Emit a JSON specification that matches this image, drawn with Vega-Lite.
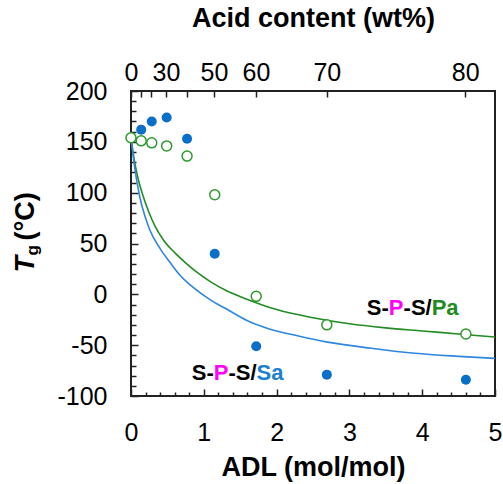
{
  "$schema": "https://vega.github.io/schema/vega-lite/v6.json",
  "width": 364,
  "height": 305,
  "autosize": "none",
  "padding": {"left": 131, "top": 91, "right": 8, "bottom": 88},
  "background": "white",
  "config": {
    "view": {"stroke": "#222222", "strokeWidth": 2},
    "font": "Liberation Sans",
    "axis": {
      "domain": false,
      "grid": false,
      "labelFont": "Liberation Sans",
      "titleFont": "Liberation Sans",
      "labelColor": "black",
      "titleColor": "black",
      "tickColor": "#222222",
      "tickWidth": 1.5,
      "labelFontSize": 25,
      "titleFontSize": 27,
      "titleFontWeight": "bold",
      "labelFlush": false,
      "labelOverlap": false
    }
  },
  "datasets": {
    "pa_fit": [
      {"adl": 0, "tg": 154}, {"adl": 0.05, "tg": 130}, {"adl": 0.1, "tg": 113}, {"adl": 0.165, "tg": 97},
      {"adl": 0.25, "tg": 80}, {"adl": 0.33, "tg": 67}, {"adl": 0.45, "tg": 53}, {"adl": 0.6, "tg": 41},
      {"adl": 0.75, "tg": 31}, {"adl": 0.9, "tg": 22}, {"adl": 1.1, "tg": 12}, {"adl": 1.3, "tg": 4},
      {"adl": 1.6, "tg": -5}, {"adl": 2.0, "tg": -15}, {"adl": 2.5, "tg": -23}, {"adl": 3.0, "tg": -29},
      {"adl": 3.5, "tg": -33}, {"adl": 4.0, "tg": -36}, {"adl": 4.5, "tg": -39}, {"adl": 5.0, "tg": -42}
    ],
    "sa_fit": [
      {"adl": 0, "tg": 154}, {"adl": 0.05, "tg": 125}, {"adl": 0.12, "tg": 96}, {"adl": 0.2, "tg": 75},
      {"adl": 0.26, "tg": 63}, {"adl": 0.4, "tg": 45}, {"adl": 0.53, "tg": 32}, {"adl": 0.67, "tg": 19},
      {"adl": 0.85, "tg": 7}, {"adl": 1.1, "tg": -6}, {"adl": 1.3, "tg": -14}, {"adl": 1.6, "tg": -26},
      {"adl": 1.9, "tg": -34}, {"adl": 2.3, "tg": -41}, {"adl": 2.7, "tg": -47}, {"adl": 3.3, "tg": -53},
      {"adl": 3.9, "tg": -58}, {"adl": 4.5, "tg": -61}, {"adl": 5.0, "tg": -63}
    ],
    "pa_pts": [
      {"adl": 0, "tg": 154}, {"adl": 0.14, "tg": 151}, {"adl": 0.285, "tg": 149}, {"adl": 0.49, "tg": 146},
      {"adl": 0.77, "tg": 136}, {"adl": 1.15, "tg": 98}, {"adl": 1.72, "tg": -2}, {"adl": 2.69, "tg": -30},
      {"adl": 4.6, "tg": -39}
    ],
    "sa_pts": [
      {"adl": 0.14, "tg": 162}, {"adl": 0.285, "tg": 170}, {"adl": 0.49, "tg": 174}, {"adl": 0.77, "tg": 153},
      {"adl": 1.15, "tg": 40}, {"adl": 1.72, "tg": -51}, {"adl": 2.69, "tg": -79}, {"adl": 4.6, "tg": -84}
    ],
    "labels": [
      {"series": "Pa", "adl": 3.24, "tg": -20.3},
      {"series": "Sa", "adl": 0.834, "tg": -84.3}
    ]
  },
  "layer": [
    {
      "data": {"name": "pa_fit"},
      "mark": {"type": "line", "color": "#238C23", "strokeWidth": 1.6, "interpolate": "monotone"},
      "encoding": {
        "x": {"field": "adl", "type": "quantitative", "scale": {"domain": [0, 5], "nice": false},
          "axis": {"orient": "bottom", "values": [0, 1, 2, 3, 4, 5], "format": "d", "tickSize": -7, "labelPadding": 31, "title": "ADL (mol/mol)", "titlePadding": 9}},
        "y": {"field": "tg", "type": "quantitative", "scale": {"domain": [-100, 200], "nice": false},
          "axis": {"orient": "left", "values": [-100, -50, 0, 50, 100, 150, 200], "tickSize": -7, "labelPadding": 31, "labelExpr": "toString(datum.value)",
            "title": "T", "titleFontStyle": "italic", "titleAngle": -90, "titleAlign": "left", "titleBaseline": "alphabetic", "titleX": -98, "titleY": 181}}
      }
    },
    {
      "data": {"name": "sa_fit"},
      "mark": {"type": "line", "color": "#2E86DE", "strokeWidth": 1.6, "interpolate": "monotone"},
      "encoding": {
        "x": {"field": "adl", "type": "quantitative",
          "axis": {"orient": "bottom", "values": [0.2, 0.4, 0.6, 0.8, 1.2, 1.4, 1.6, 1.8, 2.2, 2.4, 2.6, 2.8, 3.2, 3.4, 3.6, 3.8, 4.2, 4.4, 4.6, 4.8], "labels": false, "tickSize": -4, "title": null}},
        "y": {"field": "tg", "type": "quantitative",
          "axis": {"orient": "left", "values": [-90, -80, -70, -60, -40, -30, -20, -10, 10, 20, 30, 40, 60, 70, 80, 90, 110, 120, 130, 140, 160, 170, 180, 190], "labels": false, "tickSize": -5,
            "title": "g", "titleFontSize": 17, "titleAngle": -90, "titleAlign": "left", "titleBaseline": "alphabetic", "titleX": -94, "titleY": 164}}
      }
    },
    {
      "data": {"name": "pa_pts"},
      "mark": {"type": "point", "filled": false, "fill": "white", "fillOpacity": 1, "stroke": "#2E9A2E", "strokeWidth": 1.5, "size": 100, "opacity": 1},
      "encoding": {
        "x": {"field": "adl", "type": "quantitative",
          "axis": {"orient": "top", "values": [0, 0.133, 0.275, 0.48, 0.765, 1.14, 1.717, 2.69, 4.59], "tickSize": -6, "labelPadding": 12, "title": "Acid content (wt%)", "titlePadding": 28,
            "labelExpr": "datum.value == 0 ? '0' : abs(datum.value - 0.48) < 0.01 ? '30' : abs(datum.value - 1.14) < 0.01 ? '50' : abs(datum.value - 1.717) < 0.01 ? '60' : abs(datum.value - 2.69) < 0.01 ? '70' : abs(datum.value - 4.59) < 0.01 ? '80' : ''"}},
        "y": {"field": "tg", "type": "quantitative", "axis": null}
      }
    },
    {
      "data": {"name": "sa_pts"},
      "mark": {"type": "circle", "color": "#0A6FC8", "size": 100, "opacity": 1},
      "encoding": {
        "x": {"field": "adl", "type": "quantitative", "axis": null},
        "y": {"field": "tg", "type": "quantitative",
          "axis": {"orient": "left", "ticks": false, "labels": false, "title": "(°C)", "titleAngle": -90, "titleAlign": "left", "titleBaseline": "alphabetic", "titleFontWeight": "bold", "titleX": -98, "titleY": 149}}
      }
    },
    {
      "data": {"name": "labels"},
      "mark": {"type": "text", "text": "S-", "align": "left", "baseline": "alphabetic", "fontSize": 22, "fontWeight": "bold", "color": "black"},
      "encoding": {
        "x": {"field": "adl", "type": "quantitative", "axis": null},
        "y": {"field": "tg", "type": "quantitative", "axis": null}
      }
    },
    {
      "data": {"name": "labels"},
      "mark": {"type": "text", "text": "P", "align": "left", "baseline": "alphabetic", "fontSize": 22, "fontWeight": "bold", "color": "#FF00FF", "dx": 22},
      "encoding": {
        "x": {"field": "adl", "type": "quantitative", "axis": null},
        "y": {"field": "tg", "type": "quantitative", "axis": null}
      }
    },
    {
      "data": {"name": "labels"},
      "mark": {"type": "text", "text": "-S/", "align": "left", "baseline": "alphabetic", "fontSize": 22, "fontWeight": "bold", "color": "black", "dx": 36.7},
      "encoding": {
        "x": {"field": "adl", "type": "quantitative", "axis": null},
        "y": {"field": "tg", "type": "quantitative", "axis": null}
      }
    },
    {
      "data": {"name": "labels"},
      "mark": {"type": "text", "align": "left", "baseline": "alphabetic", "fontSize": 22, "fontWeight": "bold", "dx": 64.8},
      "encoding": {
        "x": {"field": "adl", "type": "quantitative", "axis": null},
        "y": {"field": "tg", "type": "quantitative", "axis": null},
        "text": {"field": "series"},
        "color": {"field": "series", "type": "nominal", "scale": {"domain": ["Pa", "Sa"], "range": ["#1E8C1E", "#1F7FD0"]}, "legend": null}
      }
    }
  ],
  "resolve": {"axis": {"x": "independent", "y": "independent"}}
}
